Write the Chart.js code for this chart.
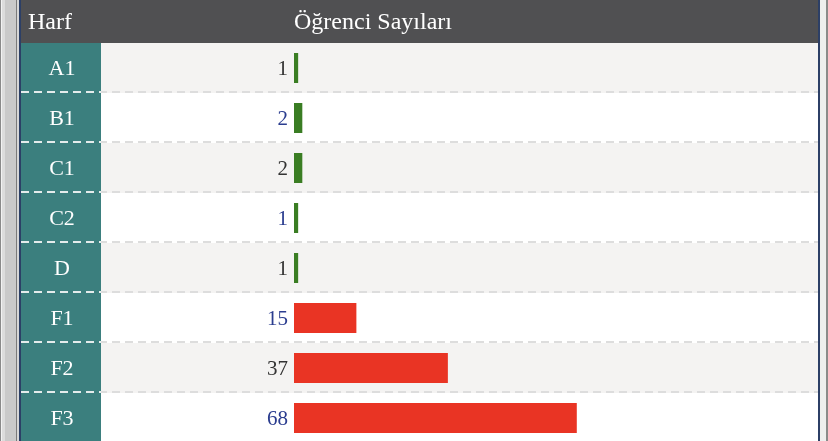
<!DOCTYPE html>
<html><head><meta charset="utf-8">
<script src="https://cdn.jsdelivr.net/npm/chart.js@4/dist/chart.umd.min.js"></script>
<style>html,body{margin:0;padding:0;overflow:hidden;background:#fff}#wrap{width:828px;height:443px}</style>
</head><body><div id="wrap"><canvas id="c" width="828" height="443"></canvas></div>
<script>
const categories = ['A1','B1','C1','C2','D','F1','F2','F3'];
const counts = [1,2,2,1,1,15,37,68];
const headerLeft = 'Harf';
const headerRight = 'Öğrenci Sayıları';
const axisMax = 126;

const FONT = '"Liberation Serif","Times New Roman",serif';
const tablePlugin = {
  id: 'table',
  beforeDraw(chart) {
    const ctx = chart.ctx, y = chart.scales.y, x = chart.scales.x;
    const n = categories.length;
    const band = (y.bottom - y.top) / n;
    ctx.save();
    // frame left
    const strips = [[0,1,'#8a8a8a'],[1,2,'#f2f2f2'],[2,5,'#dcdcdc'],[5,16,'#c9c9c9'],[16,17,'#7a7a7a'],[17,19,'#d6d6d6'],[19,21,'#2c3f66']];
    strips.forEach(s => { ctx.fillStyle = s[2]; ctx.fillRect(s[0],0,s[1]-s[0],chart.height); });
    ctx.fillStyle = '#2c3f66'; ctx.fillRect(818,0,2,chart.height);
    ctx.fillStyle = '#eeeeee'; ctx.fillRect(820,0,6,chart.height);
    ctx.fillStyle = '#8a8a8a'; ctx.fillRect(826,0,2,chart.height);
    // header
    ctx.fillStyle = '#505052'; ctx.fillRect(21,0,797,y.top);
    // rows
    for (let i = 0; i < n; i++) {
      const top = y.getPixelForValue(i) - band/2;
      ctx.fillStyle = i % 2 === 0 ? '#f4f3f2' : '#ffffff';
      ctx.fillRect(101, top, 717, band);
      ctx.fillStyle = '#3b7f7e';
      ctx.fillRect(21, top, 80, band);
    }
    // dashed separators
    ctx.lineWidth = 2;
    ctx.setLineDash([8,5]);
    for (let i = 0; i < n; i++) {
      const b = Math.round(y.getPixelForValue(i) + band/2) - 1;
      ctx.strokeStyle = '#dddddd';
      ctx.beginPath(); ctx.moveTo(21, b); ctx.lineTo(818, b); ctx.stroke();
      ctx.save();
      ctx.beginPath(); ctx.rect(21, b-2, 80, 4); ctx.clip();
      ctx.strokeStyle = '#e4ecec';
      ctx.beginPath(); ctx.moveTo(21, b); ctx.lineTo(818, b); ctx.stroke();
      ctx.restore();
    }
    ctx.setLineDash([]);
    // header text
    ctx.fillStyle = '#ffffff';
    ctx.font = '24px ' + FONT;
    ctx.textBaseline = 'alphabetic';
    ctx.textAlign = 'left';
    ctx.fillText(headerLeft, 28, 29);
    ctx.fillText(headerRight, x.getPixelForValue(0), 29);
    // category labels
    ctx.font = '22px ' + FONT;
    ctx.textAlign = 'center';
    for (let i = 0; i < n; i++) {
      ctx.fillText(categories[i], 62, y.getPixelForValue(i) + 7);
    }
    ctx.restore();
  },
  afterDatasetsDraw(chart) {
    const ctx = chart.ctx, y = chart.scales.y, x = chart.scales.x;
    ctx.save();
    ctx.font = '21px ' + FONT;
    ctx.textAlign = 'right';
    ctx.textBaseline = 'alphabetic';
    counts.forEach((v, i) => {
      ctx.fillStyle = i % 2 === 0 ? '#333333' : '#2b3d8f';
      ctx.fillText(String(v), x.getPixelForValue(0) - 6, y.getPixelForValue(i) + 7);
    });
    ctx.restore();
  }
};

new Chart(document.getElementById('c'), {
  type: 'bar',
  data: {
    labels: categories,
    datasets: [{
      data: counts,
      backgroundColor: (c) => categories[c.dataIndex] && categories[c.dataIndex].startsWith('F') ? '#e93424' : '#3a7d23',
      borderWidth: 0,
      barPercentage: 0.6,
      categoryPercentage: 1
    }]
  },
  options: {
    indexAxis: 'y',
    responsive: false,
    animation: false,
    events: [],
    layout: { padding: { left: 294, top: 43, right: 10, bottom: 0 } },
    plugins: { legend: { display: false }, tooltip: { enabled: false } },
    scales: {
      x: { display: false, min: 0, max: axisMax, grid: { display: false } },
      y: { display: false, grid: { display: false } }
    }
  },
  plugins: [tablePlugin]
});
</script>
</body></html>
